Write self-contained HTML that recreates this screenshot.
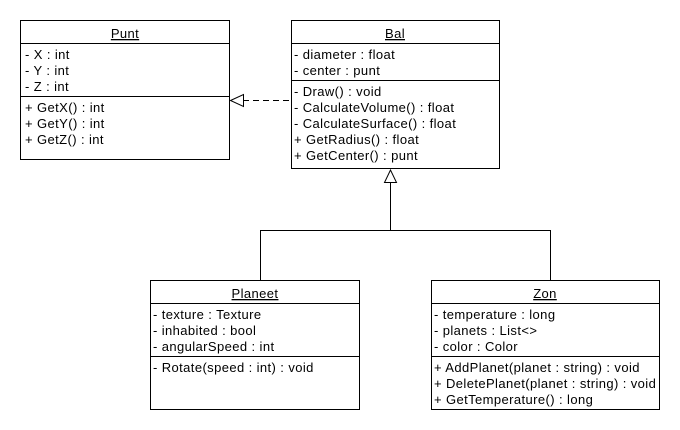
<!DOCTYPE html>
<html><head><meta charset="utf-8"><style>
html,body{margin:0;padding:0;background:#fff;}
svg{display:block;}
text{font-family:"Liberation Sans",Arial,sans-serif;font-size:13px;letter-spacing:0.4px;fill:#000;}
</style></head><body>
<svg width="680" height="430" viewBox="0 0 680 430" xmlns="http://www.w3.org/2000/svg">
<g fill="none" stroke="#000" stroke-width="1">
<rect x="20.5" y="20.5" width="209" height="139"/>
<line x1="20" y1="43.5" x2="230" y2="43.5"/>
<line x1="20" y1="96.5" x2="230" y2="96.5"/>
<rect x="291.5" y="20.5" width="208" height="148"/>
<line x1="291" y1="43.5" x2="500" y2="43.5"/>
<line x1="291" y1="80.5" x2="500" y2="80.5"/>
<rect x="150.5" y="280.5" width="209" height="129"/>
<line x1="150" y1="303.5" x2="360" y2="303.5"/>
<line x1="150" y1="356.5" x2="360" y2="356.5"/>
<rect x="431.5" y="280.5" width="228" height="129"/>
<line x1="431" y1="303.5" x2="660" y2="303.5"/>
<line x1="431" y1="356.5" x2="660" y2="356.5"/>
<line x1="243" y1="100.5" x2="291" y2="100.5" stroke-dasharray="6,4"/>
<polygon points="230.5,100.5 243.5,94.5 243.5,106.5" fill="#fff"/>
<polyline points="260.5,280 260.5,230.5 550.5,230.5 550.5,280"/>
<line x1="390.5" y1="182" x2="390.5" y2="230.5"/>
<polygon points="390.5,170 384.5,182.5 396.5,182.5" fill="#fff"/>
</g>
<g>
<text x="125" y="38" text-anchor="middle" text-decoration="underline">Punt</text>
<text x="25" y="59">- X : int</text>
<text x="25" y="75">- Y : int</text>
<text x="25" y="91">- Z : int</text>
<text x="25" y="112">+ GetX() : int</text>
<text x="25" y="128">+ GetY() : int</text>
<text x="25" y="144">+ GetZ() : int</text>

<text x="395" y="38" text-anchor="middle" text-decoration="underline">Bal</text>
<text x="294" y="59">- diameter : float</text>
<text x="294" y="75">- center : punt</text>
<text x="294" y="96">- Draw() : void</text>
<text x="294" y="112">- CalculateVolume() : float</text>
<text x="294" y="128">- CalculateSurface() : float</text>
<text x="294" y="144">+ GetRadius() : float</text>
<text x="294" y="160">+ GetCenter() : punt</text>

<text x="255" y="298" text-anchor="middle" text-decoration="underline">Planeet</text>
<text x="153" y="319">- texture : Texture</text>
<text x="153" y="335">- inhabited : bool</text>
<text x="153" y="351">- angularSpeed : int</text>
<text x="153" y="372">- Rotate(speed : int) : void</text>

<text x="545" y="298" text-anchor="middle" text-decoration="underline">Zon</text>
<text x="434" y="319">- temperature : long</text>
<text x="434" y="335">- planets : List&lt;&gt;</text>
<text x="434" y="351">- color : Color</text>
<text x="434" y="372">+ AddPlanet(planet : string) : void</text>
<text x="434" y="388">+ DeletePlanet(planet : string) : void</text>
<text x="434" y="404">+ GetTemperature() : long</text>
</g>
</svg>
</body></html>
